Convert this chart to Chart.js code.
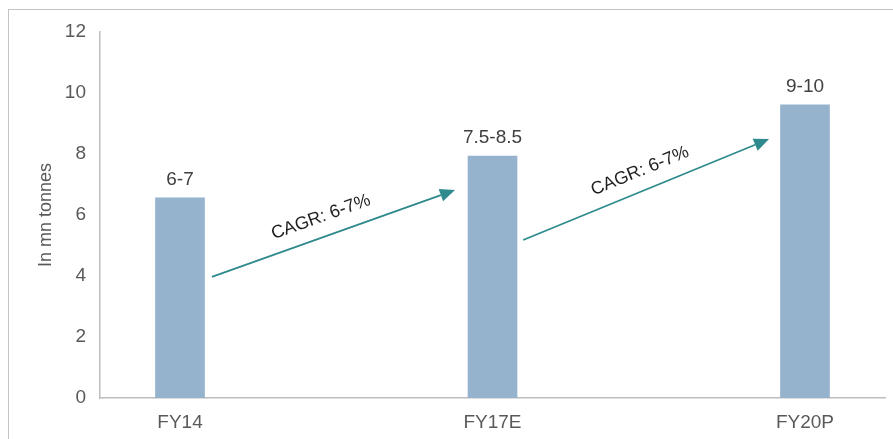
<!DOCTYPE html>
<html>
<head>
<meta charset="utf-8">
<script src="https://cdn.jsdelivr.net/npm/chart.js@4"></script>
<style>
  html, body { margin: 0; padding: 0; background: #ffffff; }
  #wrap { position: relative; width: 893px; height: 439px; overflow: hidden; }
  #frame { position: absolute; left: 8px; top: 9px; width: 900px; height: 440px;
           border-left: 1.5px solid #c4c4c4; border-top: 1.5px solid #c4c4c4; }
  #c { position: absolute; left: 0; top: 0; }
</style>
</head>
<body>
<div id="wrap">
  <div id="frame"></div>
  <canvas id="c" width="893" height="439" style="width:893px;height:439px"></canvas>
</div>
<script>
// ---- data ----
const categories = ['FY14', 'FY17E', 'FY20P'];
const values = [6.56, 7.93, 9.61];
const valueLabels = ['6-7', '7.5-8.5', '9-10'];
const yTicks = [0, 2, 4, 6, 8, 10, 12];
const axisTitle = 'In mn tonnes';
// CAGR annotations (in data coordinates: x = category index, y = value)
const arrowStarts = [[0.102, 3.97], [1.098, 5.18]];
const arrowEnds = [[0.880, 6.82], [1.885, 8.49]];
const arrowTextPos = [[0.451, 5.93], [1.472, 7.44]];
const arrowTexts = ['CAGR: 6-7%', 'CAGR: 6-7%'];

const FONT = "'Liberation Sans', Arial, sans-serif";

const overlay = {
  id: 'overlay',
  afterDatasetsDraw(chart) {
    const ctx = chart.ctx;
    const xs = chart.scales.x, ys = chart.scales.y;
    ctx.save();
    // value labels
    const meta = chart.getDatasetMeta(0);
    ctx.font = '19px ' + FONT;
    ctx.fillStyle = '#404040';
    ctx.textAlign = 'center';
    ctx.textBaseline = 'alphabetic';
    meta.data.forEach((bar, i) => {
      ctx.fillText(valueLabels[i], bar.x, bar.y - 13);
    });
    // arrows
    arrowStarts.forEach((s, i) => {
      const x1 = xs.getPixelForValue(s[0]), y1 = ys.getPixelForValue(s[1]);
      const x2 = xs.getPixelForValue(arrowEnds[i][0]), y2 = ys.getPixelForValue(arrowEnds[i][1]);
      const ang = Math.atan2(y2 - y1, x2 - x1);
      const hl = 15, hw = 6.5;
      ctx.strokeStyle = '#2e8a8c';
      ctx.fillStyle = '#2e8a8c';
      ctx.lineWidth = 1.8;
      ctx.beginPath();
      ctx.moveTo(x1, y1);
      ctx.lineTo(x2 - hl * Math.cos(ang), y2 - hl * Math.sin(ang));
      ctx.stroke();
      ctx.beginPath();
      ctx.moveTo(x2, y2);
      const bx = x2 - hl * Math.cos(ang), by = y2 - hl * Math.sin(ang);
      ctx.lineTo(bx + hw * Math.sin(ang), by - hw * Math.cos(ang));
      ctx.lineTo(bx - hw * Math.sin(ang), by + hw * Math.cos(ang));
      ctx.closePath();
      ctx.fill();
      // text
      const tx = xs.getPixelForValue(arrowTextPos[i][0]), ty = ys.getPixelForValue(arrowTextPos[i][1]);
      ctx.save();
      ctx.translate(tx, ty);
      ctx.rotate(ang);
      ctx.font = '18px ' + FONT;
      ctx.fillStyle = '#1f1f1f';
      ctx.textAlign = 'center';
      ctx.textBaseline = 'middle';
      ctx.fillText(arrowTexts[i], 0, 0);
      ctx.restore();
    });
    ctx.restore();
  }
};

new Chart(document.getElementById('c'), {
  type: 'bar',
  data: {
    datasets: [{
      data: values.map((v, i) => ({ x: i, y: v })),
      backgroundColor: '#95b3cd',
      borderWidth: 0,
      barThickness: 49
    }]
  },
  options: {
    responsive: false,
    animation: false,
    devicePixelRatio: 1,
    layout: { padding: { left: 0, right: 8, top: 32, bottom: 0 } },
    plugins: { legend: { display: false }, tooltip: { enabled: false } },
    scales: {
      x: {
        type: 'linear',
        offset: false,
        min: -0.256,
        max: 2.256,
        grid: { display: false, offset: false, drawTicks: false },
        border: { display: true, color: '#bdbdbd', width: 1.5 },
        afterBuildTicks(scale) { scale.ticks = categories.map((c, i) => ({ value: i })); },
        afterFit(scale) { scale.height = 41; },
        ticks: {
          padding: 13,
          color: '#595959',
          font: { size: 19, family: FONT },
          maxRotation: 0,
          autoSkip: false,
          callback: (v) => categories[v]
        }
      },
      y: {
        min: 0,
        max: 12,
        grid: { display: false, drawTicks: false },
        border: { display: true, color: '#bdbdbd', width: 1.5 },
        afterBuildTicks(scale) { scale.ticks = yTicks.map(v => ({ value: v })); },
        afterFit(scale) { scale.width = 100; },
        ticks: {
          padding: 14,
          color: '#595959',
          font: { size: 19, family: FONT }
        },
        title: {
          display: true,
          text: axisTitle,
          color: '#595959',
          font: { size: 18, family: FONT },
          padding: { top: 35, bottom: 0 }
        }
      }
    }
  },
  plugins: [overlay]
});
</script>
</body>
</html>
